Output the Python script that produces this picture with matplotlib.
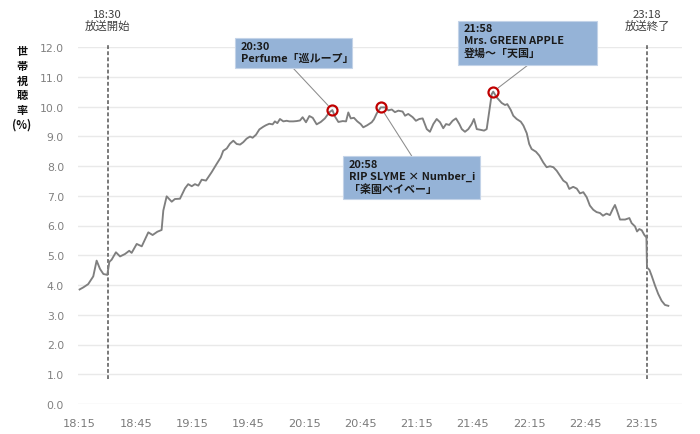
import matplotlib
matplotlib.use('Agg')
import matplotlib.pyplot as plt
import numpy as np
from matplotlib.patches import Rectangle

plt.rcParams['font.family'] = ['Noto Sans CJK JP', 'DejaVu Sans']

# minutes after 18:15
minutes = [0, 2.0, 4.6, 7.3, 9.1, 10.9, 12.7, 14.8, 15.9, 17.1,
           19.4, 21.6, 24.2, 26.5, 27.8, 30.5, 33.2, 36.7, 39.0, 41.5,
           43.8, 44.7, 46.5, 49.2, 50.9, 53.6, 56.3, 58.0, 59.9, 61.6,
           63.4, 65.2, 67.5, 70.5, 73.2, 75.4, 76.7, 78.6, 80.3, 82.1,
           83.9, 85.7, 87.4, 89.2, 91.0, 92.4, 94.2, 96.0, 98.1, 99.5,
           101.3, 103.1, 104.3, 105.6, 107.0, 108.8, 110.6, 112.0, 114.1, 115.9,
           117.7, 119.1, 120.9, 122.7, 124.5, 126.6, 128.8, 131.0, 133.3, 135.0,
           136.4, 138.2, 140.5, 142.3, 143.5, 144.8, 146.5, 148.3, 150.1, 151.5,
           153.6, 156.0, 157.2, 158.7, 160.8, 163.1, 164.9, 166.7, 168.4, 170.2,
           172.5, 173.8, 175.5, 177.9, 179.6, 181.4, 183.2, 185.4, 187.1, 188.9,
           190.7, 192.5, 194.2, 195.7, 197.4, 199.2, 201.0, 202.8, 204.1, 205.8,
           207.6, 209.4, 210.6, 212.1, 213.8, 216.0, 217.4, 218.8, 220.1, 220.9,
           222.7, 225.4, 227.2, 228.4, 230.2, 231.6, 233.4, 235.6, 237.0, 238.8,
           240.1, 241.4, 243.7, 245.5, 247.6, 249.4, 251.2, 253.0, 254.8, 256.6,
           258.3, 260.1, 261.5, 263.6, 265.5, 267.2, 269.0, 270.8, 272.5, 274.3,
           276.1, 277.9, 279.5, 281.4, 283.2, 284.7, 285.9, 287.0, 288.6, 291.3,
           293.6, 294.8, 296.6, 297.7, 298.9, 300.2, 301.6, 302.7, 303.0, 304.3,
           305.5, 307.3, 309.0, 310.8, 312.6, 314.4]

rating = [3.85, 3.92, 4.03, 4.29, 4.82, 4.54, 4.37, 4.34, 4.78, 4.85,
          5.10, 4.96, 5.04, 5.15, 5.08, 5.38, 5.30, 5.77, 5.68, 5.79,
          5.85, 6.50, 6.98, 6.80, 6.89, 6.90, 7.25, 7.39, 7.32, 7.39,
          7.34, 7.54, 7.51, 7.79, 8.07, 8.29, 8.51, 8.59, 8.75, 8.85,
          8.74, 8.72, 8.80, 8.92, 8.99, 8.95, 9.05, 9.23, 9.32, 9.37,
          9.42, 9.40, 9.50, 9.44, 9.58, 9.50, 9.52, 9.50, 9.50, 9.51,
          9.53, 9.64, 9.47, 9.68, 9.62, 9.40, 9.48, 9.60, 9.80, 9.88,
          9.66, 9.48, 9.51, 9.50, 9.80, 9.60, 9.62, 9.50, 9.41, 9.30,
          9.37, 9.47, 9.57, 9.77, 9.97, 9.97, 9.87, 9.90, 9.81, 9.86,
          9.83, 9.69, 9.75, 9.64, 9.52, 9.58, 9.60, 9.24, 9.15, 9.41,
          9.58, 9.47, 9.27, 9.41, 9.38, 9.52, 9.60, 9.41, 9.24, 9.15,
          9.24, 9.41, 9.58, 9.24, 9.22, 9.19, 9.24, 9.86, 10.42, 10.50,
          10.31, 10.12, 10.05, 10.08, 9.89, 9.69, 9.58, 9.49, 9.36, 9.10,
          8.74, 8.57, 8.48, 8.35, 8.12, 7.96, 7.99, 7.96, 7.84, 7.67,
          7.51, 7.43, 7.23, 7.30, 7.24, 7.08, 7.12, 6.95, 6.67, 6.53,
          6.45, 6.42, 6.33, 6.40, 6.35, 6.55, 6.69, 6.50, 6.20, 6.20,
          6.25, 6.08, 5.97, 5.80, 5.88, 5.84, 5.68, 5.60, 4.59, 4.51,
          4.31, 3.98, 3.70, 3.47, 3.33, 3.30]

tick_minutes = [0, 30, 60, 90, 120, 150, 180, 210, 240, 270, 300]
tick_labels = ['18:15', '18:45', '19:15', '19:45', '20:15', '20:45',
               '21:15', '21:45', '22:15', '22:45', '23:15']
y_ticks = [0, 1, 2, 3, 4, 5, 6, 7, 8, 9, 10, 11, 12]

event_minutes = [15, 303]
event_labels = ['18:30\n放送開始', '23:18\n放送終了']

ann_minutes = [135.0, 160.8, 220.9]
ann_texts = ['20:30\nPerfume「巡ループ」',
             '20:58\nRIP SLYME × Number_i\n「楽園ベイベー」',
             '21:58\nMrs. GREEN APPLE\n登場～「天国」']

W, H = 700, 435
fig = plt.figure(figsize=(7, 4.35), dpi=100)
ax = fig.add_axes([78 / W, 30 / H, 604 / W, 357 / H])

def fx(px):
    return px / W

def fy(py):
    return 1 - py / H

ax.set_xlim(-0.85, 321.7)
ax.set_ylim(0, 12)
ax.set_yticks(y_ticks)
ax.set_yticklabels([f'{v:.1f}' for v in y_ticks], family='DejaVu Sans',
                   fontsize=7.8, color='#808080')
ax.set_xticks(tick_minutes)
ax.set_xticklabels(tick_labels, family='DejaVu Sans', fontsize=8.2,
                   color='#7a7a7a')
ax.tick_params(axis='both', length=0)
ax.tick_params(axis='y', pad=10)
ax.tick_params(axis='x', pad=10)
ax.yaxis.grid(True, color='#e9e9e9', lw=1.0)
ax.set_axisbelow(True)
for s in ax.spines.values():
    s.set_visible(False)

ax.plot(minutes, rating, color='#7f7f7f', lw=1.35, zorder=3,
        solid_joinstyle='round')

for m, lab in zip(event_minutes, event_labels):
    ax.plot([m, m], [0.85, 12.15], color='#555555', lw=1.1,
            ls=(0, (2.5, 1.5)), zorder=2, clip_on=False)
    xpix = ax.transData.transform((m, 0))[0]
    fig.text(xpix / W, fy(10), lab, ha='center', va='top', fontsize=8.2,
             color='#404040', linespacing=1.1)

ann_vals = np.interp(ann_minutes, minutes, rating)
ax.plot(ann_minutes, ann_vals, 'o', mfc='none', mec='#c00000', ms=7.2,
        mew=1.6, zorder=5)

boxes = [(235, 39, 352, 69), (343, 157, 480, 200), (458, 22, 597, 66)]
anchors = [(293, 69), (411.7, 157), (528, 66)]
for (x0, y0, x1, y1), txt, (axp, ayp), m, v in zip(boxes, ann_texts, anchors,
                                                  ann_minutes, ann_vals):
    ax.annotate('', xy=(m, v), xycoords='data',
                xytext=(fx(axp), fy(ayp)), textcoords='figure fraction',
                arrowprops=dict(arrowstyle='-', color='#8c8c8c', lw=0.75,
                                shrinkA=0, shrinkB=4.5), zorder=4)
    rect = Rectangle((fx(x0), fy(y1)), fx(x1) - fx(x0), fy(y0) - fy(y1),
                     transform=fig.transFigure, facecolor='#95b3d7',
                     edgecolor='#c3d3e8', lw=0.8, zorder=6)
    fig.patches.append(rect)
    fig.text(fx(x0 + 6), fy(y0 + 2.5), txt, ha='left', va='top', fontsize=7.9,
             fontweight='bold', color='#1a1a1a', linespacing=1.25, zorder=7)

fig.text(fx(22), fy(45), '世\n帯\n視\n聴\n率\n(%)', ha='center', va='top',
         fontsize=8.0, fontweight='bold', color='#111111', linespacing=1.18)

fig.savefig('out.png', dpi=100)
